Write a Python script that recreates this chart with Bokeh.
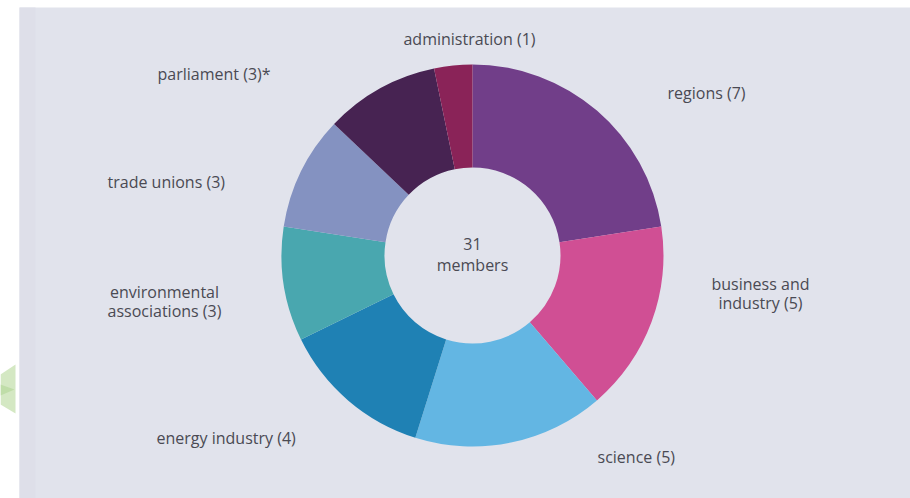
import math
from bokeh.plotting import figure
from bokeh.models import Range1d, ColumnDataSource
from bokeh.core.properties import value
from bokeh.embed import file_html
from bokeh.resources import INLINE

# ---- data ----
categories = ["regions", "business and industry", "science", "energy industry",
              "environmental associations", "trade unions", "parliament", "administration"]
members = [7, 5, 5, 4, 3, 3, 3, 1]
label_lines = [["regions (7)"], ["business and", "industry (5)"], ["science (5)"],
               ["energy industry (4)"], ["environmental", "associations (3)"],
               ["trade unions (3)"], ["parliament (3)*"], ["administration (1)"]]
center_lines = ["31", "members"]

# ---- styles ----
palette = ["#713E89", "#D04F94", "#63B6E3", "#1F81B4", "#49A7AF", "#8492C1", "#472352", "#8A2358"]

W, H = 910, 498
def Y(py):
    return H - py

CX, CY = 472, Y(255)
R_OUT, R_IN = 191, 88

total = sum(members)
starts, ends = [], []
acc = 0
for m in members:
    a0 = math.pi / 2 - 2 * math.pi * acc / total
    acc += m
    a1 = math.pi / 2 - 2 * math.pi * acc / total
    starts.append(a0)
    ends.append(a1)

p = figure(width=W, height=H, x_range=Range1d(0, W), y_range=Range1d(0, H),
           output_backend="svg", toolbar_location=None, min_border=0)
p.axis.visible = False
p.grid.visible = False
p.outline_line_color = None
p.background_fill_color = "white"
p.border_fill_color = "white"

# panel
p.quad(left=19, right=W, bottom=0, top=Y(7), fill_color="#E1E3EC", line_color=None)
p.quad(left=19, right=35, bottom=0, top=Y(7), fill_color="#DEDFE9", line_color=None)

# decorative green arrow at left edge
p.patch([0, 15, 15, 0], [Y(374), Y(364), Y(413), Y(404)], fill_color="#D4E8C3", line_color=None)
p.patch([0, 14, 0], [Y(384), Y(389), Y(395)], fill_color="#BFDDA8", line_color=None)

src = ColumnDataSource(dict(start=ends, end=starts, color=palette, cat=categories, n=members))
p.annular_wedge(x=CX, y=CY, inner_radius=R_IN, outer_radius=R_OUT,
                start_angle="start", end_angle="end", fill_color="color",
                line_color=None, source=src)

# label positions (pixel coords: x, y of first line, align)
label_pos = [
    (667, 92, "left"),
    (760, 283, "center"),
    (597, 456, "left"),
    (156, 437, "left"),
    (164, 291, "center"),
    (107, 181, "left"),
    (157, 73, "left"),
    (469, 38, "center"),
]
LINE_H = 19
font = value("Open Sans")
tx, ty, tt, ta = [], [], [], []
for (x, y, al), lines in zip(label_pos, label_lines):
    for i, ln in enumerate(lines):
        tx.append(x); ty.append(Y(y + i * LINE_H)); tt.append(ln); ta.append(al)
tsrc = ColumnDataSource(dict(x=tx, y=ty, text=tt, align=ta))
p.text(x="x", y="y", text="text", text_align="align", text_baseline="middle",
       text_font=font, text_font_size="16px", text_color="#4A4A53", source=tsrc)

p.text(x=[CX, CX], y=[Y(243), Y(264)], text=center_lines, text_align="center",
       text_baseline="middle", text_font=font, text_font_size="16px", text_color="#4A4A53")

open("out.html", "w").write(file_html(p, INLINE))
